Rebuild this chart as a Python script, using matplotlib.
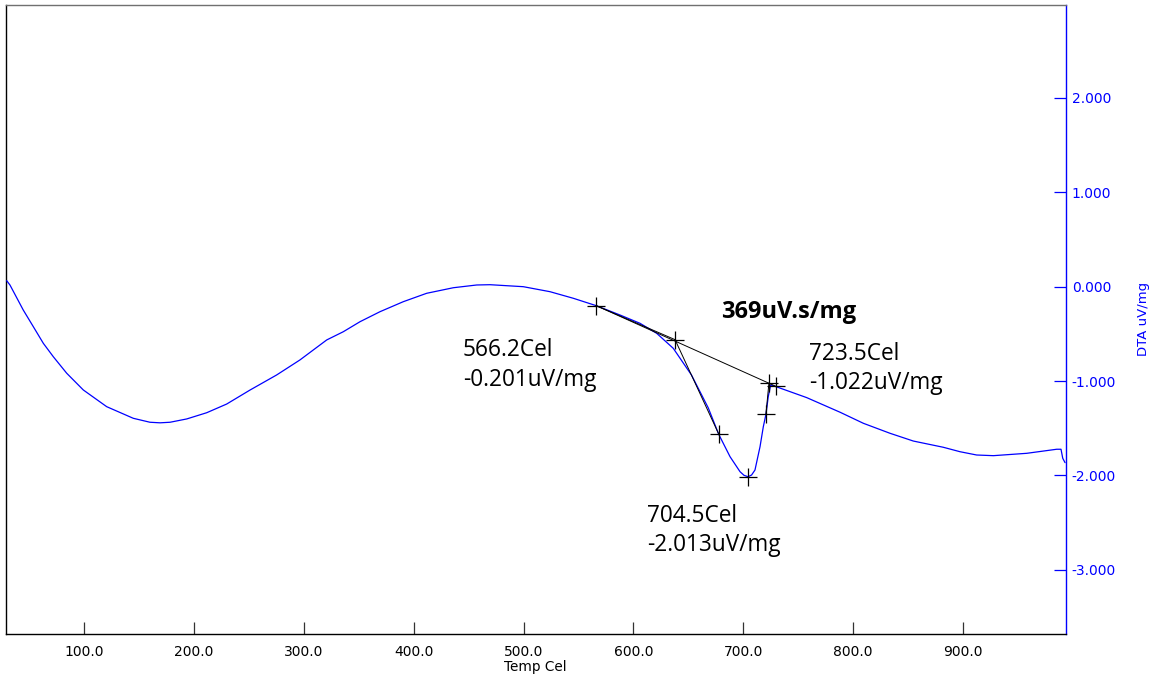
import matplotlib
matplotlib.use("Agg")
import matplotlib.pyplot as plt
from matplotlib.ticker import FormatStrFormatter

# ---- data ----
temp = [29.3, 32.3, 44.4, 53.6, 62.7, 71.8, 84.0, 99.1, 120.4, 144.6, 159.8, 169.0,
        178.1, 193.3, 211.5, 229.7, 250.9, 275.2, 296.4, 320.8, 335.9, 351.1, 369.3,
        390.5, 411.8, 436.1, 457.4, 469.5, 499.8, 524.1, 545.4, 566.2, 587.9, 606.1,
        621.3, 636.4, 653.0, 668.3, 677.8, 688.1, 697.2, 700.8, 704.5, 707.7, 710.8,
        715.4, 718.4, 720.8, 722.9, 725.1, 730.0, 757.9, 788.3, 809.5, 833.8, 855.0,
        882.3, 897.5, 912.7, 927.9, 958.3, 985.6, 989.5, 991.1, 993.2]
dta = [0.064, 0.018, -0.247, -0.424, -0.600, -0.742, -0.917, -1.094, -1.271, -1.394,
       -1.436, -1.442, -1.436, -1.401, -1.335, -1.243, -1.095, -0.935, -0.776, -0.564,
       -0.477, -0.371, -0.265, -0.159, -0.070, -0.011, 0.018, 0.021, 0.000, -0.053,
       -0.123, -0.201, -0.300, -0.388, -0.494, -0.653, -0.936, -1.285, -1.564, -1.801,
       -1.960, -1.998, -2.013, -1.995, -1.942, -1.695, -1.483, -1.352, -1.165, -1.041,
       -1.059, -1.175, -1.330, -1.447, -1.553, -1.635, -1.701, -1.748, -1.783, -1.790,
       -1.765, -1.722, -1.722, -1.818, -1.864]

# analysis construction points
mark_temp = [566.2, 638.0, 677.8, 704.5, 720.8, 723.5, 729.9]
mark_dta = [-0.201, -0.561, -1.561, -2.013, -1.349, -1.022, -1.056]

# events (onset, peak, end)
event_temp = [566.2, 704.5, 723.5]
event_dta = [-0.201, -2.013, -1.022]
peak_area = 369  # uV.s/mg

x_ticks = [100, 200, 300, 400, 500, 600, 700, 800, 900]
y_ticks = [2, 1, 0, -1, -2, -3]

# ---- figure ----
W, H = 1160, 684
fig = plt.figure(figsize=(W / 100, H / 100), dpi=100)
ax = fig.add_axes([6 / W, 1 - 634 / H, (1065.5 - 6) / W, (634 - 4.7) / H])

ax.plot(temp, dta, color="#0000ff", lw=0.9, zorder=3,
        solid_joinstyle="round", solid_capstyle="round")

# construction lines
lk = dict(color="black", lw=0.7, zorder=4)
ax.plot([mark_temp[0], mark_temp[6]], [mark_dta[0], mark_dta[6]], **lk)
ax.plot([mark_temp[0], mark_temp[1]], [mark_dta[0], mark_dta[1]], **lk)
ax.plot([mark_temp[1], mark_temp[2]], [mark_dta[1], mark_dta[2]], **lk)
ax.plot([mark_temp[4], mark_temp[5]], [mark_dta[4], mark_dta[5]], **lk)
ax.plot(mark_temp, mark_dta, ls="none", marker="+", ms=13, mew=0.9,
        color="black", zorder=5)

ax.set_xlim(28.7, 993.6)
ax.set_ylim(-3.679, 2.987)

ax.set_xticks(x_ticks)
ax.set_yticks(y_ticks)
ax.xaxis.set_major_formatter(FormatStrFormatter("%.1f"))
ax.yaxis.set_major_formatter(FormatStrFormatter("%.3f"))
ax.yaxis.tick_right()

tick_font = "DejaVu Sans"
ax.tick_params(axis="x", direction="in", length=9, width=0.9, color="#333333",
               pad=8, labelsize=10)
ax.tick_params(axis="y", direction="in", length=8.6, width=0.9, color="#0000ff",
               labelcolor="#0000ff", pad=4.5, labelsize=10)
for lab in ax.get_xticklabels() + ax.get_yticklabels():
    lab.set_fontfamily(tick_font)

for s in ["left", "bottom"]:
    ax.spines[s].set_color("black")
ax.spines["top"].set_color("#707070")
ax.spines["right"].set_color("#0000ff")
for s in ax.spines.values():
    s.set_linewidth(1.0)

ax.set_xlabel("Temp Cel", fontsize=9.8, fontfamily=tick_font, labelpad=1)
ax.text(1.0732, 0.5, "DTA uV/mg", transform=ax.transAxes, rotation=90,
        ha="center", va="center", color="#0000ff", fontsize=9.5,
        fontfamily=tick_font)

# annotations
af = dict(fontsize=16.3, fontfamily="Open Sans", color="black", va="baseline",
          ha="left", zorder=6)
ax.text(444.9, -0.738, f"{event_temp[0]:.1f}Cel", **af)
ax.text(444.9, -1.049, f"{event_dta[0]:.3f}uV/mg", **af)
ax.text(612.2, -2.497, f"{event_temp[1]:.1f}Cel", **af)
ax.text(612.2, -2.804, f"{event_dta[1]:.3f}uV/mg", **af)
ax.text(760.1, -0.776, f"{event_temp[2]:.1f}Cel", **af)
ax.text(760.1, -1.083, f"{event_dta[2]:.3f}uV/mg", **af)
ax.text(679.9, -0.330, f"{peak_area}uV.s/mg", fontsize=17, fontfamily="Open Sans",
        fontweight="bold", va="baseline", ha="left", zorder=6)

fig.savefig("out.png", dpi=100)
